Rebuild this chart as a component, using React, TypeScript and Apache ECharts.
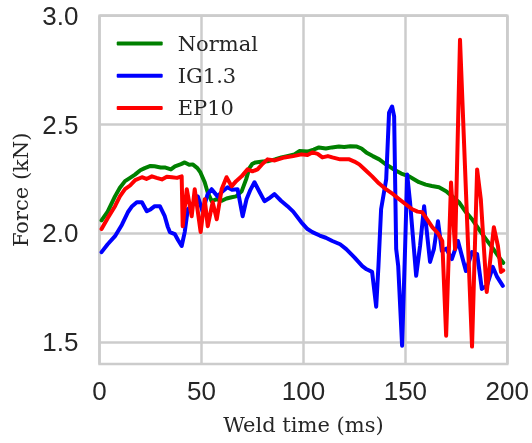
import React, { useEffect, useRef } from 'react';
import * as echarts from 'echarts';

const seriesNames = ['Normal', 'IG1.3', 'EP10'];
const seriesColors = ['#008000', '#0000ff', '#ff0000'];

const normalTime = [1, 4, 7.6, 10, 12.5, 15, 17.4, 20, 22.2, 25, 27, 30, 32, 35, 37, 40, 41.8, 44, 45.7, 48, 49.5, 51.6, 53, 55, 57.5, 60, 62.3, 64.8, 67, 69.7, 71.9, 73.5, 75, 76.5, 80, 82.4, 86, 89.2, 92, 95.6, 98, 102, 105, 107.6, 111, 114, 117.4, 120, 123, 126.2, 128.5, 130.8, 134, 137.2, 140, 142.1, 145, 148, 151.9, 154, 156.7, 160, 163, 166.5, 170, 173, 176.3, 179.5, 182.7, 186, 189.5, 193, 196, 198];
const normalForce = [2.06, 2.1, 2.17, 2.21, 2.24, 2.255, 2.27, 2.29, 2.3, 2.31, 2.308, 2.303, 2.303, 2.294, 2.308, 2.318, 2.326, 2.315, 2.317, 2.3, 2.28, 2.235, 2.19, 2.148, 2.157, 2.15, 2.16, 2.166, 2.17, 2.193, 2.248, 2.3, 2.32, 2.326, 2.33, 2.331, 2.34, 2.349, 2.355, 2.363, 2.378, 2.376, 2.385, 2.395, 2.39, 2.395, 2.399, 2.397, 2.4, 2.399, 2.39, 2.372, 2.355, 2.34, 2.32, 2.308, 2.29, 2.275, 2.262, 2.25, 2.235, 2.224, 2.218, 2.212, 2.194, 2.17, 2.143, 2.1, 2.065, 2.02, 1.974, 1.93, 1.89, 1.865];

const igTime = [1, 4, 7.6, 11, 13.9, 16, 18.3, 20.8, 23.2, 25, 27.1, 29.6, 32, 33.5, 34.5, 36.9, 38.5, 40.3, 41.8, 43.3, 45.7, 48.2, 50.6, 53, 55, 57.9, 60, 62.8, 65, 67.7, 70.2, 72.1, 74, 76, 78.5, 80.9, 83, 85.8, 89, 92.2, 95, 99, 102, 104.4, 108, 111, 114.2, 118, 121, 125, 128.9, 131, 133.7, 135.7, 136.8, 138.1, 140.6, 142, 143.5, 144.5, 145.5, 146.5, 148.4, 149.9, 150.9, 152.3, 155.3, 157.2, 159.2, 162.1, 164, 166, 167.9, 170, 172.8, 175.8, 179.7, 182.7, 185.2, 187.5, 190, 192.9, 195, 197.8];
const igForce = [1.914, 1.95, 1.987, 2.04, 2.097, 2.125, 2.143, 2.143, 2.102, 2.11, 2.125, 2.125, 2.079, 2.03, 2.006, 1.997, 1.97, 1.942, 2.006, 2.111, 2.13, 2.17, 2.1, 2.18, 2.203, 2.17, 2.19, 2.212, 2.2, 2.203, 2.079, 2.157, 2.2, 2.235, 2.19, 2.148, 2.16, 2.18, 2.15, 2.125, 2.1, 2.051, 2.02, 2.006, 1.99, 1.98, 1.965, 1.95, 1.928, 1.89, 1.85, 1.835, 1.823, 1.663, 1.85, 2.111, 2.248, 2.555, 2.583, 2.537, 1.928, 1.85, 1.484, 1.942, 2.271, 2.143, 1.805, 1.942, 2.125, 1.869, 1.928, 2.056, 1.919, 1.93, 1.882, 1.965, 1.827, 1.914, 1.905, 1.745, 1.76, 1.846, 1.8, 1.759];

const epTime = [1, 4, 7.6, 10, 12.5, 15, 17.5, 20.8, 23, 25.7, 28, 30.6, 33, 35.5, 38, 40.3, 40.8, 42.8, 45.2, 46.7, 49.6, 51.6, 53.1, 55.5, 57.5, 59.9, 62.3, 64.8, 67, 69.7, 72.6, 75, 77.5, 80, 82.4, 86, 90.7, 95, 99, 102, 104.4, 107, 109.3, 112, 114.2, 118, 122.5, 125, 127.4, 130.5, 133.7, 137, 140.6, 144, 147, 150, 153.4, 156, 158.3, 161, 163.2, 166, 168.1, 170, 172.4, 174.4, 176.8, 182.7, 185.2, 187, 189.9, 193.4, 195.4, 196.9, 198];
const epForce = [2.02, 2.07, 2.125, 2.17, 2.203, 2.22, 2.245, 2.258, 2.25, 2.262, 2.255, 2.248, 2.26, 2.258, 2.255, 2.262, 2.033, 2.203, 2.079, 2.203, 2.006, 2.157, 2.033, 2.143, 2.065, 2.203, 2.258, 2.216, 2.24, 2.262, 2.294, 2.285, 2.294, 2.32, 2.34, 2.335, 2.349, 2.355, 2.363, 2.36, 2.372, 2.365, 2.349, 2.355, 2.349, 2.34, 2.34, 2.33, 2.317, 2.29, 2.262, 2.23, 2.202, 2.18, 2.157, 2.135, 2.111, 2.1, 2.097, 2.06, 2.029, 2.0, 1.965, 1.53, 2.234, 1.928, 2.89, 1.48, 2.294, 2.157, 1.731, 2.028, 1.942, 1.823, 1.83];

const xTicks = [0, 50, 100, 150, 200];
const yTicks = [1.5, 2.0, 2.5, 3.0];

export default function App() {
  const ref = useRef<HTMLDivElement>(null);
  useEffect(() => {
    const chart = echarts.init(ref.current as HTMLDivElement, null, { renderer: 'svg' });
    const pair = (t: number[], v: number[]) => t.map((x, i) => [x, v[i]]);
    const times = [normalTime, igTime, epTime];
    const forces = [normalForce, igForce, epForce];
    const gridLine = { show: true, lineStyle: { color: '#cccccc', width: 2.5 } };
    chart.setOption({
      animation: false,
      grid: { left: 99.5, right: 23.5, top: 15.7, bottom: 79, show: true, borderColor: '#cccccc', borderWidth: 2.5 },
      legend: {
        left: 116.7, top: 33, orient: 'vertical', padding: 0,
        itemWidth: 46, itemHeight: 4, itemGap: 11.2, icon: 'roundRect',
        data: seriesNames,
        textStyle: { fontFamily: 'DejaVu Serif', fontSize: 21, color: '#262626', lineHeight: 20, padding: [0, 0, 0, 10] },
      },
      xAxis: {
        type: 'value', min: xTicks[0], max: xTicks[xTicks.length - 1], interval: 50,
        axisLine: { show: false }, axisTick: { show: false }, splitLine: gridLine,
        axisLabel: { fontFamily: 'Liberation Sans', fontSize: 26, color: '#262626', margin: 14 },
        name: 'Weld time (ms)', nameLocation: 'middle', nameGap: 50,
        nameTextStyle: { fontFamily: 'DejaVu Serif', fontSize: 21, color: '#262626' },
      },
      yAxis: {
        type: 'value', min: 1.4, max: 3.0,
        axisLine: { show: false }, axisTick: { show: false, customValues: yTicks }, splitLine: gridLine,
        axisLabel: { customValues: yTicks, formatter: (v: number) => v.toFixed(1), fontFamily: 'Liberation Sans', fontSize: 26, color: '#262626', margin: 21 },
        name: 'Force (kN)', nameLocation: 'middle', nameGap: 66, nameRotate: 90,
        nameTextStyle: { fontFamily: 'DejaVu Serif', fontSize: 21, color: '#262626' },
      },
      series: seriesNames.map((name, i) => ({
        name, type: 'line', showSymbol: false, symbol: 'none',
        color: seriesColors[i],
        lineStyle: { width: 4, color: seriesColors[i], cap: 'round', join: 'round' },
        data: pair(times[i], forces[i]),
      })),
    });
    return () => chart.dispose();
  }, []);
  return <div ref={ref} style={{ position: 'fixed', left: 0, top: 0, width: 532, height: 443 }} />;
}
